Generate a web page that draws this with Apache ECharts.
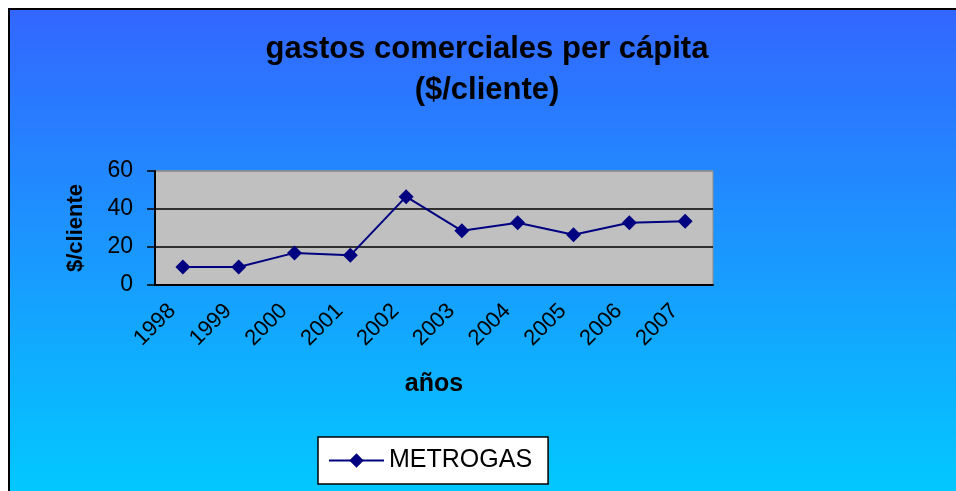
<!DOCTYPE html>
<html>
<head>
<meta charset="utf-8">
<script src="https://cdn.jsdelivr.net/npm/echarts@6/dist/echarts.min.js"></script>
<style>
  html, body { margin: 0; padding: 0; background: #fff; }
  #chart { width: 956px; height: 491px; }
</style>
</head>
<body>
<div id="chart"></div>
<script>
// data
const years = ['1998', '1999', '2000', '2001', '2002', '2003', '2004', '2005', '2006', '2007'];
const metrogas = [9.5, 9.5, 16.9, 15.6, 46.5, 28.5, 32.8, 26.4, 32.8, 33.6];
const yTicks = { min: 0, max: 60, interval: 20 };

const font = '"Liberation Sans", Arial, sans-serif';

let chart = echarts.init(document.getElementById('chart')),
    option;

option = {
    animation: false,
    graphic: [{
        type: 'rect',
        z: -10,
        shape: { x: 9, y: 9, width: 960, height: 500 },
        style: {
            fill: new echarts.graphic.LinearGradient(0, 0, 0, 1, [
                { offset: 0, color: '#3366ff' },
                { offset: 1, color: '#00ccff' }
            ]),
            stroke: '#000',
            lineWidth: 2
        }
    }],
    title: {
        text: 'gastos comerciales per cápita\n($/cliente)',
        left: 487,
        top: 29,
        textAlign: 'center',
        padding: 0,
        textStyle: {
            fontFamily: font,
            fontSize: 31,
            fontWeight: 'bold',
            color: '#000',
            lineHeight: 41
        }
    },
    legend: {
        left: 318,
        top: 437,
        padding: [11, 16, 11, 10],
        itemWidth: 55,
        itemHeight: 18,
        itemGap: 6,
        backgroundColor: '#fff',
        borderColor: '#000',
        borderWidth: 1.5,
        textStyle: { fontFamily: font, fontSize: 25, color: '#000' },
        data: ['METROGAS']
    },
    grid: {
        left: 155,
        right: 243,
        top: 171,
        bottom: 206,
        show: true,
        backgroundColor: '#c0c0c0',
        borderColor: '#8c8c8c',
        borderWidth: 1
    },
    xAxis: {
        type: 'category',
        data: years,
        boundaryGap: true,
        name: 'años',
        nameLocation: 'middle',
        nameGap: 87,
        nameTextStyle: { fontFamily: font, fontSize: 25, fontWeight: 'bold', color: '#000' },
        axisLine: { lineStyle: { color: '#000', width: 2 } },
        axisTick: { length: 7, lineStyle: { color: '#000', width: 1.5 } },
        axisLabel: { rotate: 45, margin: 12, padding: [0, 15, 0, 0], fontFamily: font, fontSize: 22, color: '#000' }
    },
    yAxis: {
        type: 'value',
        min: yTicks.min,
        max: yTicks.max,
        interval: yTicks.interval,
        name: '$/cliente',
        nameLocation: 'middle',
        nameGap: 68,
        nameTextStyle: { fontFamily: font, fontSize: 22, fontWeight: 'bold', color: '#000' },
        axisLine: { show: true, lineStyle: { color: '#000', width: 2 } },
        axisTick: { show: true, length: 8, lineStyle: { color: '#000', width: 1.5 } },
        axisLabel: { margin: 22, fontFamily: font, fontSize: 23, color: '#000' },
        splitLine: { show: true, lineStyle: { color: ['#000', '#000', '#000', '#8c8c8c'], width: 1.5 } }
    },
    series: [{
        name: 'METROGAS',
        type: 'line',
        data: metrogas,
        symbol: 'diamond',
        symbolSize: 15,
        color: '#000080',
        lineStyle: { color: '#000080', width: 2 },
        itemStyle: { color: '#000080' }
    }]
};

option && chart.setOption(option);
</script>
</body>
</html>
